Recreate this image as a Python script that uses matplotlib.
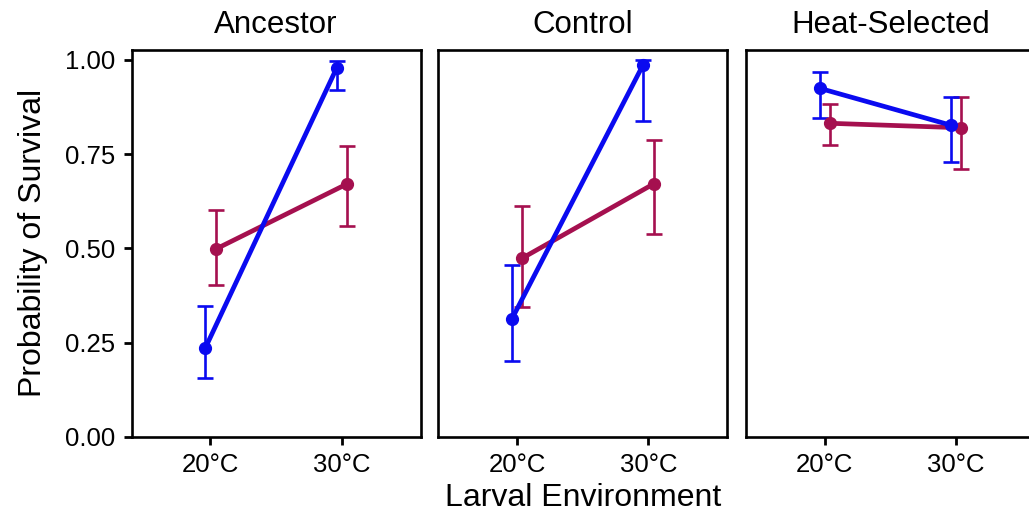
import matplotlib
matplotlib.use("Agg")
import matplotlib.pyplot as plt
import numpy as np

plt.rcParams["font.family"] = ["Liberation Sans", "DejaVu Sans"]

# Data
panels = ["Ancestor", "Control", "Heat-Selected"]
temps = ["20°C", "30°C"]

# blue group: mean, lower, upper per panel (20°C, 30°C)
blue_mean = [[0.235, 0.978], [0.312, 0.987], [0.925, 0.827]]
blue_low = [[0.155, 0.920], [0.201, 0.838], [0.847, 0.728]]
blue_high = [[0.348, 0.998], [0.456, 1.000], [0.969, 0.901]]

# maroon group
red_mean = [[0.498, 0.671], [0.474, 0.671], [0.832, 0.820]]
red_low = [[0.403, 0.560], [0.343, 0.537], [0.774, 0.710]]
red_high = [[0.602, 0.772], [0.613, 0.788], [0.883, 0.901]]

BLUE = "#0A0AF0"
RED = "#A5104F"
DODGE = 0.04


def draw_group(ax, x, mean, low, high, color):
    mean = np.asarray(mean)
    yerr = np.vstack([mean - np.asarray(low), np.asarray(high) - mean])
    ax.errorbar(x, mean, yerr=yerr, fmt="none", ecolor=color, elinewidth=1.9,
                capsize=6, capthick=1.9, zorder=2)
    ax.plot(x, mean, color=color, linewidth=3.4, marker="o", markersize=8.5,
            zorder=3)


fig = plt.figure(figsize=(10.29, 5.21), dpi=100)
lefts = [0.128, 0.4259, 0.7250]
axes = [fig.add_axes([l, 0.1618, 0.2807, 0.7422]) for l in lefts]

xpos = np.array([1.0, 2.0])
for i, ax in enumerate(axes):
    draw_group(ax, xpos + DODGE, red_mean[i], red_low[i], red_high[i], RED)
    draw_group(ax, xpos - DODGE, blue_mean[i], blue_low[i], blue_high[i], BLUE)

    ax.set_xlim(0.4, 2.6)
    ax.set_ylim(0, 1.0265)
    ax.set_xticks(xpos)
    ax.set_xticklabels(temps, fontsize=18.5)
    ax.set_title(panels[i], fontsize=22.5, pad=12)
    for s in ax.spines.values():
        s.set_linewidth(1.9)
        s.set_color("black")
    ax.tick_params(axis="x", length=6, width=2, pad=6)
    if i == 0:
        ax.set_yticks([0, 0.25, 0.5, 0.75, 1.0])
        ax.set_yticklabels(["0.00", "0.25", "0.50", "0.75", "1.00"], fontsize=18.5)
        ax.tick_params(axis="y", length=6, width=2, pad=6)
        ax.set_ylabel("Probability of Survival", fontsize=23, labelpad=12)
    else:
        ax.set_yticks([])

axes[1].set_xlabel("Larval Environment", fontsize=23, labelpad=4)

fig.savefig("out.png", dpi=100)
